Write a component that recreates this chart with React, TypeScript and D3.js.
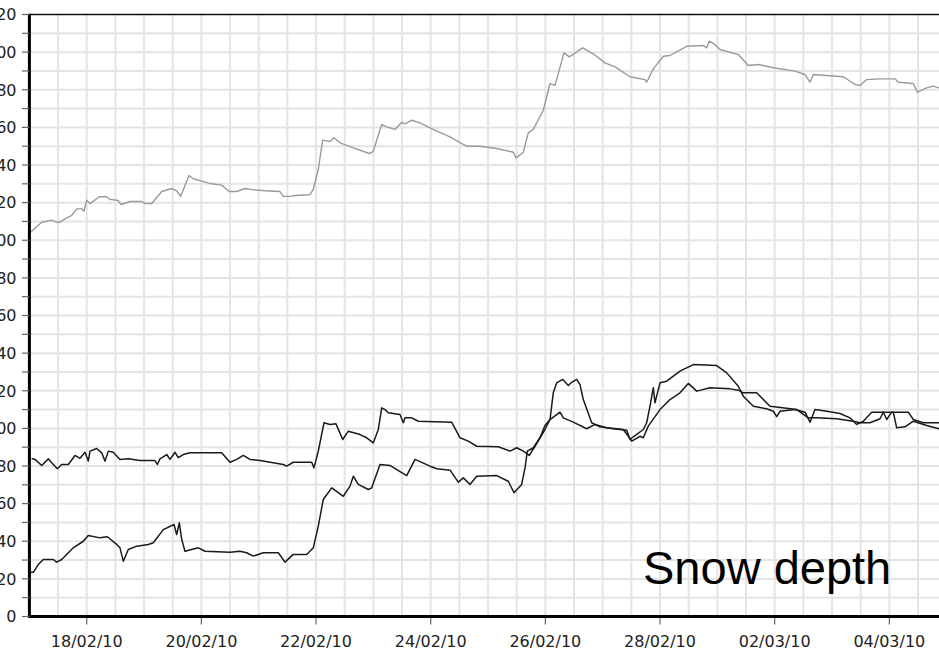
import React from "react";
import * as d3 from "d3";

// Time axis: days elapsed since 17/02/2010 00:00 (UTC)
const START = Date.UTC(2010, 1, 17);
const END = Date.UTC(2010, 2, 5);
const DAY = 86400000;

const yTickValues = [0, 20, 40, 60, 80, 100, 120, 140, 160, 180, 200, 220, 240, 260, 280, 300, 320];
const xTickDates = ["2010-02-18", "2010-02-20", "2010-02-22", "2010-02-24", "2010-02-26", "2010-02-28", "2010-03-02", "2010-03-04"];
const xTickLabels = ["18/02/10", "20/02/10", "22/02/10", "24/02/10", "26/02/10", "28/02/10", "02/03/10", "04/03/10"];
const chartTitle = "Snow depth";

// Grey series (top)
const greyDays = [0.01, 0.215, 0.389, 0.476, 0.534, 0.621, 0.738, 0.825, 0.912, 0.952, 0.999, 1.057, 1.219, 1.348, 1.406, 1.551, 1.598, 1.755, 1.959, 2.016, 2.133, 2.308, 2.482, 2.569, 2.639, 2.784, 2.859, 3.005, 3.18, 3.354, 3.487, 3.616, 3.761, 3.906, 4.11, 4.371, 4.429, 4.546, 4.633, 4.895, 4.952, 5.039, 5.116, 5.243, 5.313, 5.418, 5.65, 5.929, 5.999, 6.145, 6.232, 6.377, 6.494, 6.552, 6.668, 6.813, 7.105, 7.337, 7.569, 7.628, 7.86, 8.151, 8.441, 8.488, 8.615, 8.702, 8.79, 8.964, 9.081, 9.168, 9.325, 9.418, 9.651, 9.836, 10.04, 10.215, 10.476, 10.738, 10.767, 10.883, 11.057, 11.174, 11.465, 11.755, 11.814, 11.859, 11.959, 12.046, 12.365, 12.54, 12.714, 12.976, 13.354, 13.529, 13.616, 13.674, 14.197, 14.401, 14.488, 14.605, 14.837, 15.099, 15.156, 15.418, 15.488, 15.652, 15.767, 15.866, 16.06];
const greyValues = [204.0, 209.6, 210.7, 209.6, 209.6, 211.4, 213.2, 216.7, 216.7, 215.4, 221.3, 219.5, 223.1, 223.1, 221.7, 221.1, 219.0, 220.6, 220.6, 219.5, 219.5, 225.9, 227.5, 226.3, 223.4, 234.4, 232.7, 231.4, 230.0, 229.3, 225.9, 225.9, 227.5, 226.8, 226.3, 225.9, 223.3, 223.3, 223.8, 224.2, 227.0, 237.6, 253.2, 252.5, 254.5, 251.8, 249.1, 246.1, 247.3, 261.5, 260.3, 258.9, 262.7, 261.9, 263.8, 262.4, 258.0, 255.0, 250.9, 250.0, 250.0, 248.8, 246.8, 243.8, 246.8, 257.1, 258.9, 269.1, 283.3, 282.3, 299.6, 297.5, 302.3, 299.1, 294.3, 292.2, 286.9, 285.4, 284.0, 291.1, 297.8, 298.2, 303.1, 303.5, 302.3, 305.8, 304.0, 301.4, 298.7, 292.9, 293.4, 291.7, 289.9, 288.1, 284.0, 288.1, 286.9, 282.8, 282.3, 285.4, 285.8, 285.8, 284.0, 283.3, 278.7, 281.0, 281.9, 281.0, 281.0];

// Black series A (starts near 84)
const seriesADays = [0.04, 0.098, 0.215, 0.33, 0.389, 0.487, 0.563, 0.679, 0.795, 0.883, 0.97, 1.027, 1.057, 1.174, 1.261, 1.319, 1.376, 1.463, 1.58, 1.725, 1.929, 2.191, 2.231, 2.278, 2.395, 2.452, 2.54, 2.597, 2.684, 2.801, 3.354, 3.499, 3.616, 3.731, 3.848, 4.022, 4.429, 4.488, 4.603, 4.924, 4.964, 5.039, 5.139, 5.243, 5.348, 5.465, 5.563, 5.767, 5.883, 5.999, 6.086, 6.145, 6.203, 6.26, 6.464, 6.522, 6.552, 6.668, 6.784, 7.366, 7.511, 7.656, 7.802, 8.179, 8.384, 8.5, 8.615, 8.72, 8.819, 8.993, 9.081, 9.138, 9.198, 9.303, 9.4, 9.459, 9.547, 9.604, 9.662, 9.808, 9.953, 10.185, 10.419, 10.476, 10.546, 10.708, 10.767, 10.825, 10.883, 10.912, 11.0, 11.116, 11.348, 11.58, 11.988, 12.163, 12.365, 12.452, 12.627, 12.86, 12.976, 13.035, 13.093, 13.354, 13.529, 13.616, 13.703, 13.907, 14.139, 14.314, 14.43, 14.546, 14.692, 14.895, 14.954, 15.041, 15.331, 15.418, 15.592, 15.866, 16.06];
const seriesAValues = [84.0, 83.5, 80.3, 83.8, 81.7, 78.5, 80.8, 80.8, 85.6, 84.1, 87.3, 82.6, 87.9, 89.3, 87.0, 82.6, 87.9, 87.3, 83.5, 83.8, 82.9, 82.9, 80.8, 83.8, 86.1, 83.5, 87.3, 84.4, 86.1, 87.0, 87.0, 82.0, 83.5, 85.6, 83.5, 82.9, 80.8, 79.9, 82.0, 82.0, 79.0, 87.9, 103.0, 102.1, 102.4, 94.1, 98.5, 96.7, 95.0, 92.3, 99.4, 110.9, 110.0, 108.3, 107.4, 103.0, 105.6, 105.6, 103.8, 103.3, 95.0, 93.2, 90.5, 90.2, 87.9, 89.7, 87.9, 85.6, 90.5, 99.4, 104.7, 118.9, 124.2, 126.0, 122.8, 124.5, 126.0, 123.3, 115.3, 103.0, 100.8, 99.8, 99.0, 94.1, 95.8, 99.4, 103.0, 111.8, 121.6, 113.6, 124.2, 125.1, 130.4, 133.9, 133.4, 129.5, 122.4, 117.1, 111.8, 110.4, 109.1, 106.2, 109.1, 110.0, 108.6, 103.3, 110.0, 109.1, 107.9, 105.6, 102.1, 103.8, 108.6, 108.6, 104.7, 108.6, 108.6, 104.7, 103.0, 103.0, 103.0];

// Black series B (starts near 23)
const seriesBDays = [0.01, 0.068, 0.155, 0.242, 0.417, 0.476, 0.563, 0.766, 0.94, 1.027, 1.232, 1.359, 1.523, 1.58, 1.638, 1.725, 1.872, 2.074, 2.161, 2.336, 2.522, 2.569, 2.615, 2.657, 2.714, 2.946, 3.063, 3.499, 3.673, 3.79, 3.906, 4.08, 4.342, 4.458, 4.603, 4.837, 4.952, 5.039, 5.126, 5.273, 5.388, 5.475, 5.592, 5.65, 5.737, 5.912, 5.971, 6.116, 6.29, 6.407, 6.581, 6.726, 6.988, 7.105, 7.337, 7.481, 7.569, 7.685, 7.802, 8.151, 8.353, 8.453, 8.587, 8.645, 8.685, 8.79, 8.906, 8.993, 9.081, 9.255, 9.313, 9.487, 9.721, 9.866, 10.07, 10.359, 10.447, 10.506, 10.651, 10.708, 10.795, 10.999, 11.174, 11.348, 11.493, 11.64, 11.872, 12.221, 12.365, 12.452, 12.686, 12.918, 13.384, 13.587, 13.733, 14.081, 14.371, 14.488, 14.662, 14.837, 14.895, 15.069, 15.128, 15.273, 15.418, 15.652, 15.866, 16.06];
const seriesBValues = [23.5, 23.5, 27.6, 30.3, 30.3, 28.9, 30.3, 36.5, 40.0, 43.1, 41.8, 42.4, 38.3, 36.5, 29.4, 35.6, 37.4, 38.3, 39.2, 46.2, 48.9, 43.6, 49.8, 40.9, 34.7, 36.5, 34.7, 34.2, 34.7, 33.9, 32.1, 33.9, 33.9, 28.9, 33.0, 33.0, 36.5, 48.0, 62.2, 68.4, 65.8, 63.9, 69.3, 74.6, 70.2, 67.5, 68.4, 80.8, 80.3, 78.1, 74.9, 83.5, 79.9, 78.5, 77.8, 71.4, 73.7, 70.2, 74.6, 74.9, 71.9, 65.8, 70.2, 79.0, 87.9, 89.7, 95.0, 101.5, 104.7, 108.6, 105.6, 103.3, 99.8, 102.1, 100.3, 99.4, 95.8, 93.2, 95.8, 95.0, 101.2, 110.0, 115.3, 118.9, 123.9, 119.8, 121.6, 121.0, 120.3, 118.9, 118.9, 111.8, 110.0, 105.6, 105.6, 105.1, 103.8, 103.0, 103.0, 105.1, 108.6, 108.6, 100.3, 100.8, 103.8, 101.5, 99.8, 99.8];

const W = 939;
const H = 649;
const LEFT = 29.4;
const TOP = 14.5;
const BOTTOM = 616.5;
const PX_PER_DAY = 57.33;

type Pt = { t: Date; v: number };
const toPoints = (days: number[], vals: number[]): Pt[] =>
  days.map((d, i) => ({ t: new Date(START + d * DAY), v: vals[i] }));

export default function App() {
  const x = d3
    .scaleUtc()
    .domain([new Date(START), new Date(END)])
    .range([LEFT, LEFT + ((END - START) / DAY) * PX_PER_DAY]);
  const y = d3.scaleLinear().domain([0, 320]).range([BOTTOM, TOP]);

  const line = d3
    .line<Pt>()
    .x((p) => x(p.t))
    .y((p) => y(p.v))
    .curve(d3.curveLinear);

  const grey = toPoints(greyDays, greyValues);
  const a = toPoints(seriesADays, seriesAValues);
  const b = toPoints(seriesBDays, seriesBValues);

  const hGrid = d3.range(10, 320, 10);
  const vGrid = d3.utcHour.every(12)!.range(new Date(START + DAY / 2), new Date(END));
  const minorY = d3.range(0, 321, 10);
  const font = "'DejaVu Sans', Verdana, sans-serif";

  return (
    <svg
      width={W}
      height={H}
      style={{ position: "absolute", left: 0, top: 0, background: "#fff" }}
    >
      <defs>
        <clipPath id="plot">
          <rect x={LEFT + 1} y={TOP} width={W} height={BOTTOM - TOP} />
        </clipPath>
      </defs>
      <rect x={0} y={0} width={W} height={H} fill="#fff" />
      {/* grid */}
      <g stroke="#e4e4e4" strokeWidth={2}>
        {hGrid.map((v) => (
          <line key={"h" + v} x1={LEFT} x2={W} y1={y(v)} y2={y(v)} />
        ))}
        {vGrid.map((d, i) => (
          <line key={"v" + i} x1={x(d)} x2={x(d)} y1={TOP} y2={BOTTOM} />
        ))}
      </g>
      {/* series */}
      <g clipPath="url(#plot)" fill="none" strokeLinejoin="round">
        <path d={line(grey) || ""} stroke="#9a9a9a" strokeWidth={1.4} />
        <path d={line(a) || ""} stroke="#1a1a1a" strokeWidth={1.5} />
        <path d={line(b) || ""} stroke="#1a1a1a" strokeWidth={1.5} />
      </g>
      {/* frame */}
      <line x1={LEFT} x2={W} y1={TOP} y2={TOP} stroke="#111" strokeWidth={1.5} />
      <line x1={LEFT} x2={W} y1={BOTTOM} y2={BOTTOM} stroke="#000" strokeWidth={3} />
      <line x1={LEFT} x2={LEFT} y1={TOP - 0.75} y2={BOTTOM + 1.5} stroke="#000" strokeWidth={3} />
      {/* y ticks */}
      <g stroke="#666" strokeWidth={1.2}>
        {minorY.map((v) => (
          <line key={"yt" + v} x1={LEFT - 7.5} x2={LEFT} y1={y(v)} y2={y(v)} />
        ))}
      </g>
      <g fontFamily={font} fontSize={16} fill="#222" textAnchor="end">
        {yTickValues.map((v) => (
          <text key={"yl" + v} x={16.5} y={y(v)} dy="0.36em">
            {String(v)}
          </text>
        ))}
      </g>
      {/* x ticks */}
      <g stroke="#666" strokeWidth={1.2}>
        {xTickDates.map((s) => {
          const xx = x(new Date(s + "T00:00:00Z"));
          return <line key={"xt" + s} x1={xx} x2={xx} y1={BOTTOM + 1.5} y2={BOTTOM + 8} />;
        })}
      </g>
      <g fontFamily={font} fontSize={16} fill="#222" textAnchor="middle">
        {xTickDates.map((s, i) => (
          <text key={"xl" + s} x={x(new Date(s + "T00:00:00Z"))} y={647}>
            {xTickLabels[i]}
          </text>
        ))}
      </g>
      <text
        x={643}
        y={584}
        fontFamily="'Liberation Sans', Arial, sans-serif"
        fontSize={47}
        fill="#000"
      >
        {chartTitle}
      </text>
    </svg>
  );
}
